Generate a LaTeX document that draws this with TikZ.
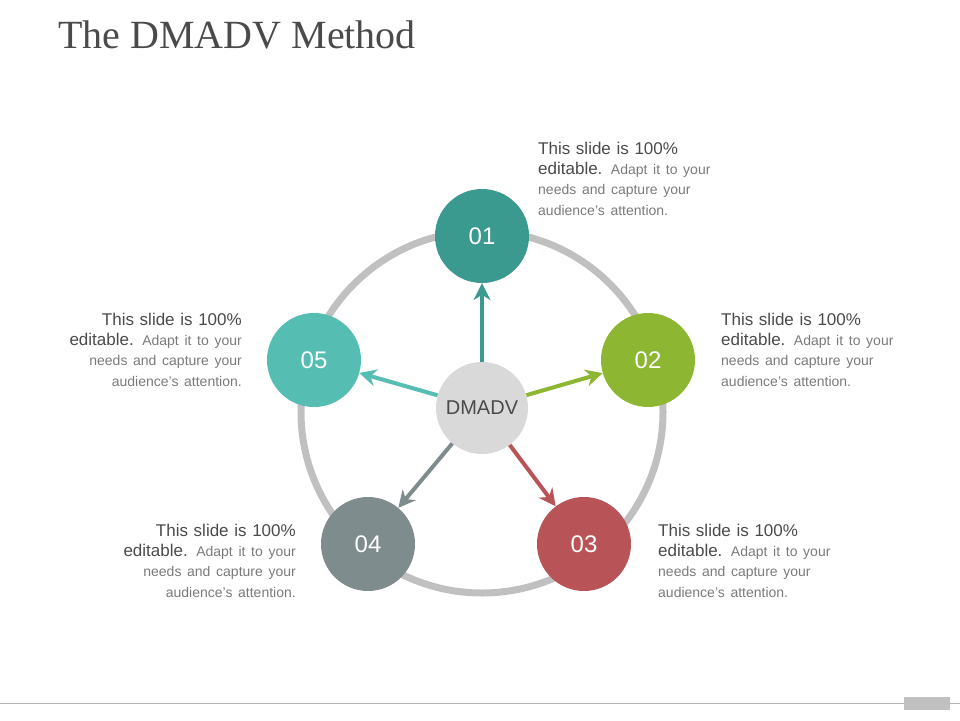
\documentclass[tikz,border=0pt]{standalone}
\usepackage{fontspec}
\setmainfont{Liberation Sans}
\newfontfamily\titlefont{Liberation Serif}
\usetikzlibrary{arrows.meta}
\definecolor{cA}{HTML}{3A9A8F}
\definecolor{cB}{HTML}{8DB733}
\definecolor{cC}{HTML}{B85457}
\definecolor{cD}{HTML}{7F8C8D}
\definecolor{cE}{HTML}{56BDB3}
\definecolor{ring}{HTML}{C0C0C0}
\definecolor{mid}{HTML}{D9D9D9}
\definecolor{dk}{HTML}{4A4A4A}
\definecolor{lt}{HTML}{7A7A7A}
\begin{document}
\begin{tikzpicture}[x=1pt,y=-1pt,
  num/.style={circle,minimum size=94pt,inner sep=0pt,text=white,font=\fontsize{24}{24}\selectfont},
  arr/.style={line width=4pt,-{Stealth[length=17pt,width=17pt]},shorten >=0pt},
  desc/.style={inner sep=0pt,text width=190pt,font=\fontsize{17}{21}\selectfont}]
\useasboundingbox (0,0) rectangle (960,720);
\node[anchor=base west,text=dk,font=\titlefont\fontsize{40}{40}\selectfont,inner sep=0pt] (title) at (58,48) {The DMADV Method};
\draw[ring,line width=7pt] (482,412) circle[radius=181];
\node[circle,fill=mid,minimum size=92pt,inner sep=0pt,text=dk,font=\fontsize{20}{20}\selectfont] (c) at (482,408) {DMADV};
\node[num,fill=cA] (n1) at (482,236) {01};
\node[num,fill=cB] (n2) at (648,360) {02};
\node[num,fill=cC] (n3) at (584,544) {03};
\node[num,fill=cD] (n4) at (368,544) {04};
\node[num,fill=cE] (n5) at (314,360) {05};
\draw[arr,cA] (c) -- (n1);
\draw[arr,cB] (c) -- (n2);
\draw[arr,cC] (c) -- (n3);
\draw[arr,cD] (c) -- (n4);
\draw[arr,cE] (c) -- (n5);
\newcommand\bodytext{\textcolor{dk}{This slide is 100\%\\ editable.} {\color{lt}\fontsize{14}{20}\selectfont Adapt it to your\\ needs and capture your\\ audience's attention.}}
\node[desc,align=left,anchor=north west] (t1) at (538,142) {\bodytext};
\node[desc,align=left,anchor=north west] (t2) at (721,313) {\bodytext};
\node[desc,align=left,anchor=north west] (t3) at (658,524) {\bodytext};
\node[desc,align=right,anchor=north east] (t4) at (296,524) {\bodytext};
\node[desc,align=right,anchor=north east] (t5) at (242,313) {\bodytext};
\draw[ring!80!gray,line width=1pt] (0,703) -- (960,703);
\node[fill=ring,minimum width=46pt,minimum height=13pt,inner sep=0pt] (tab) at (927,703) {};
\end{tikzpicture}
\end{document}
